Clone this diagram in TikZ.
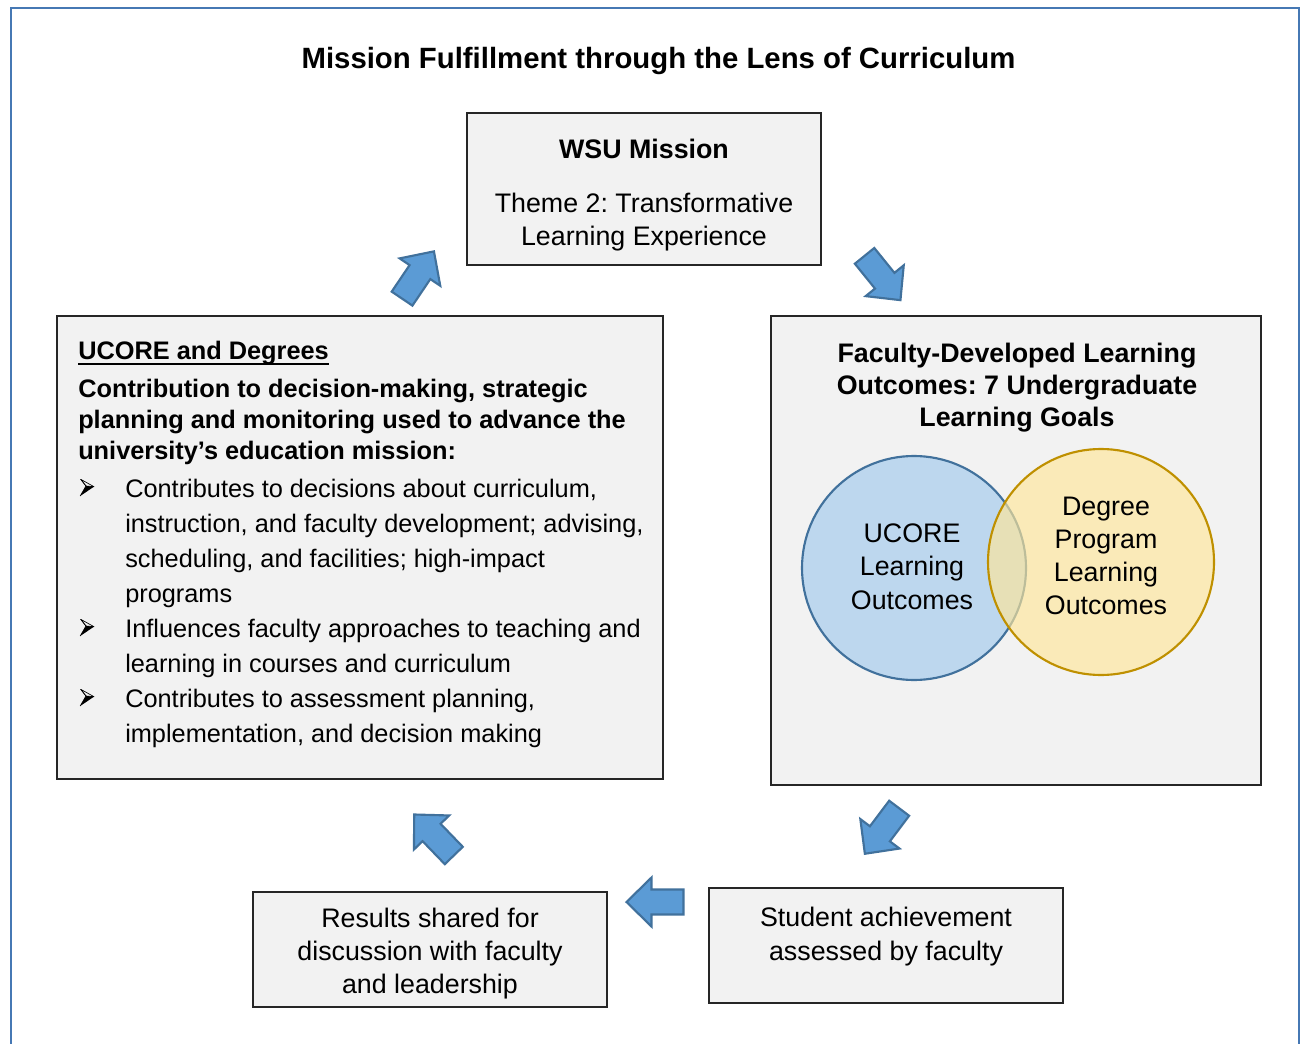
\documentclass[tikz,border=0pt]{standalone}
\usepackage{fontspec}
\setmainfont{Liberation Sans}
\frenchspacing
\definecolor{framec}{RGB}{70,120,180}
\definecolor{boxfill}{RGB}{242,242,242}
\definecolor{arrowfill}{RGB}{91,155,213}
\definecolor{arrowline}{RGB}{65,113,156}
\definecolor{bluefill}{RGB}{189,215,238}
\definecolor{yellowfill}{RGB}{255,230,153}
\definecolor{yellowline}{RGB}{191,144,0}
\newcommand\fz{\fontsize{19}{23}\selectfont}
\newcommand\fy{\fontsize{20.1}{24}\selectfont}
\newcommand\ft{\fontsize{22}{26}\selectfont\bfseries}
\newcommand\blockarrow[3]{\draw[barrow, shift={(#1,#2)}, rotate=#3] (-28.5,-12.5) -- (3.5,-12.5) -- (3.5,-24.5) -- (28.5,0) -- (3.5,24.5) -- (3.5,12.5) -- (-28.5,12.5) -- cycle;}
\newcommand\arrowbullet[2]{%
  \begin{scope}[shift={(#1,#2)}]
  \fill[black] (86,-11) -- (94,-10.3) -- (80.2,-1) -- cycle;
  \draw[black, line width=0.5pt, line join=round] (80.7,-17.7) -- (94,-10.3) -- (86,-11) -- cycle;
  \draw[black, line width=0.5pt, line join=round] (80.7,-17.7) -- (86,-11) -- (80.2,-1);
  \end{scope}}
\tikzset{
  framebox/.style={draw=framec, line width=2.2pt},
  panel/.style={draw=black!85, fill=boxfill, line width=0.8pt},
  barrow/.style={draw=arrowline, fill=arrowfill, line width=1.6pt, line join=miter},
  txt/.style={inner sep=0pt, font=\fy, anchor=base},
  txtl/.style={inner sep=0pt, font=\fz, anchor=base west},
  btxt/.style={inner sep=0pt, font=\fy\bfseries, anchor=base},
  btxtl/.style={inner sep=0pt, font=\fz\bfseries, anchor=base west},
}
\begin{document}
\begin{tikzpicture}[x=0.75pt,y=-0.75pt]
\useasboundingbox (0,0) rectangle (1301,1044);
\fill[white] (0,0) rectangle (1301,1044);
% outer frame
\draw[framebox] (11,1060) -- (11,8) -- (1299,8) -- (1299,1060);
% title
\node[inner sep=0pt, anchor=base, font=\ft] (title) at (658.5,68.5) {Mission Fulfillment through the Lens of Curriculum};
% WSU box
\draw[panel] (467,113) rectangle (821,265);
\node[btxt] (wsu1) at (644,158.5) {WSU Mission};
\node[txt] (wsu2) at (644,213) {Theme 2: Transformative};
\node[txt] (wsu3) at (644,246) {Learning Experience};
% left box
\draw[panel] (57,316) rectangle (663,779);
\node[btxtl] (uh) at (78,360) {UCORE and Degrees};
\draw[line width=1.3pt] ([yshift=-3pt]uh.base west) -- ([yshift=-3pt]uh.base east);
\node[btxtl] (c1) at (78,397.5) {Contribution to decision-making, strategic};
\node[btxtl] (c2) at (78,428.5) {planning and monitoring used to advance the};
\node[btxtl] (c3) at (78,459.5) {university’s education mission:};
\node[txtl] (l1) at (125,497) {Contributes to decisions about curriculum,};
\node[txtl] (l2) at (125,532) {instruction, and faculty development; advising,};
\node[txtl] (l3) at (125,567) {scheduling, and facilities; high-impact};
\node[txtl] (l4) at (125,602) {programs};
\node[txtl] (l5) at (125,637) {Influences faculty approaches to teaching and};
\node[txtl] (l6) at (125,672) {learning in courses and curriculum};
\node[txtl] (l7) at (125,707) {Contributes to assessment planning,};
\node[txtl] (l8) at (125,742) {implementation, and decision making};
\arrowbullet{0}{497}
\arrowbullet{0}{637}
\arrowbullet{0}{707}
% right box
\draw[panel] (771,316) rectangle (1261,785);
\node[btxt] (r1) at (1017,362.5) {Faculty-Developed Learning};
\node[btxt] (r2) at (1017,394.5) {Outcomes: 7 Undergraduate};
\node[btxt] (r3) at (1017,426.5) {Learning Goals};
\draw[draw=arrowline, fill=bluefill, line width=1.6pt] (914,568) circle (112);
\draw[draw=yellowline, fill=yellowfill, fill opacity=0.65, line width=1.6pt] (1101,562) circle (113);
\node[txt] (u1) at (912,542.5) {UCORE};
\node[txt] (u2) at (912,575.5) {Learning};
\node[txt] (u3) at (912,609) {Outcomes};
\node[txt] (d1) at (1106,515) {Degree};
\node[txt] (d2) at (1106,548) {Program};
\node[txt] (d3) at (1106,581) {Learning};
\node[txt] (d4) at (1106,614) {Outcomes};
% bottom boxes
\draw[panel] (253,892) rectangle (607,1007);
\node[txt] (s1) at (430,927) {Results shared for};
\node[txt] (s2) at (430,960) {discussion with faculty};
\node[txt] (s3) at (430,993) {and leadership};
\draw[panel] (709,888) rectangle (1063,1003);
\node[txt] (a1) at (886,926) {Student achievement};
\node[txt] (a2) at (886,960) {assessed by faculty};
% block arrows
\blockarrow{418}{275}{56}
\blockarrow{882.5}{278}{-51}
\blockarrow{882}{831}{-127}
\blockarrow{434}{835}{134}
\blockarrow{655}{902}{180}
\end{tikzpicture}
\end{document}
